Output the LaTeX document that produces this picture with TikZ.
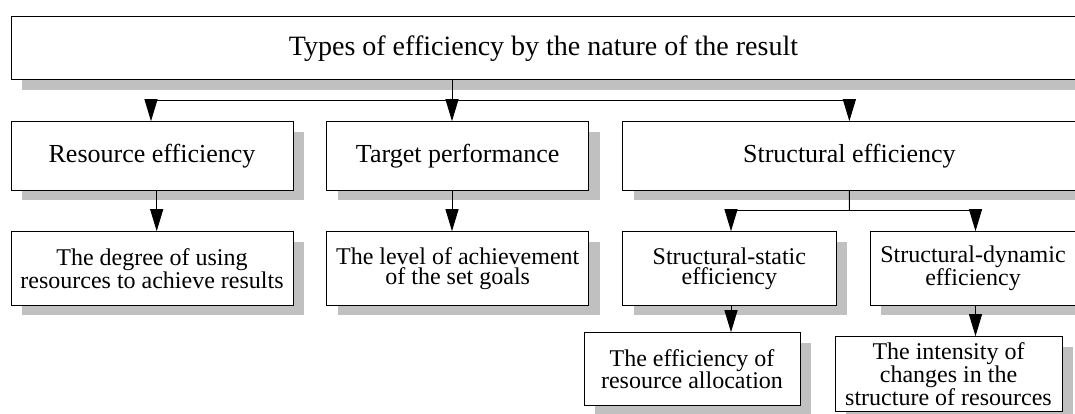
\documentclass[tikz,border=0pt]{standalone}
\usepackage{fontspec}
\setmainfont{Liberation Serif}
\usetikzlibrary{arrows.meta,shadows}
\definecolor{shadowgray}{RGB}{192,192,192}
\tikzset{
  box/.style={draw=black, line width=1pt, fill=white, inner sep=0pt, align=center,
    general shadow={fill=shadowgray, shadow xshift=11pt, shadow yshift=-10pt}},
  lvlA/.style={box, font=\fontsize{28pt}{30pt}\selectfont},
  lvlB/.style={box, font=\fontsize{26pt}{28pt}\selectfont},
  lvlC/.style={box, font=\fontsize{24pt}{20pt}\selectfont},
  conn/.style={line width=1pt, draw=black},
  arr/.style={conn, -{Triangle[length=22pt,width=13pt]}}
}
\begin{document}
\begin{tikzpicture}[x=1pt,y=-1pt]
\useasboundingbox (0,0) rectangle (1075,414);
\clip (0,0) rectangle (1075,414);
\node[lvlA, minimum width=1065pt, minimum height=63.3pt] (top) at (543.5,48.35) {Types of efficiency by the nature of the result};
\node[lvlB, minimum width=282pt, minimum height=68.3pt] (res) at (152,155.85) {Resource efficiency};
\node[lvlB, minimum width=262pt, minimum height=68.3pt] (tgt) at (457.7,155.85) {Target performance};
\node[lvlB, minimum width=453.3pt, minimum height=68.3pt] (str) at (849.35,155.85) {Structural efficiency};
\node[lvlC, minimum width=282pt, minimum height=73.3pt] (deg) at (152,268.35) {The degree of using\\resources to achieve results};
\node[lvlC, minimum width=262pt, minimum height=73.3pt] (lvl) at (457.7,268.35) {The level of achievement\\of the set goals};
\node[lvlC, minimum width=213.3pt, minimum height=73.3pt] (sta) at (729.35,268.35) {Structural-static\\efficiency};
\node[lvlC, minimum width=206pt, minimum height=73.3pt] (dyn) at (973,268.35) {Structural-dynamic\\efficiency};
\node[lvlC, minimum width=216pt, minimum height=72.8pt] (eff) at (692,369.1) {The efficiency of\\resource allocation};
\node[lvlC, minimum width=227pt, minimum height=74.3pt] (int) at (948.5,373.85) {The intensity of\\changes in the\\structure of resources};
% top level connectors
\coordinate (j1) at (452,100.7);
\coordinate (r1) at (151,100.7);
\draw[conn] (top.south -| j1) -- (j1);
\draw[conn] (r1) -- (j1 -| str.north);
\draw[arr] (r1) -- (res.north -| r1);
\draw[arr] (j1) -- (tgt.north -| j1);
\draw[arr] (j1 -| str.north) -- (str.north);
% second level
\coordinate (rx) at (156.7,0);
\draw[arr] (res.south -| rx) -- (deg.north -| rx);
\draw[arr] (tgt.south -| j1) -- (lvl.north -| j1);
\coordinate (j2) at (849.4,210.7);
\coordinate (sx) at (731,210.7);
\coordinate (dx) at (975.5,210.7);
\draw[conn] (str.south) -- (j2);
\draw[conn] (sx) -- (dx);
\draw[arr] (sx) -- (sta.north -| sx);
\draw[arr] (dx) -- (dyn.north -| dx);
\draw[arr] (sta.south -| sx) -- (eff.north -| sx);
\draw[arr] (dyn.south -| dx) -- (int.north -| dx);
\end{tikzpicture}
\end{document}
